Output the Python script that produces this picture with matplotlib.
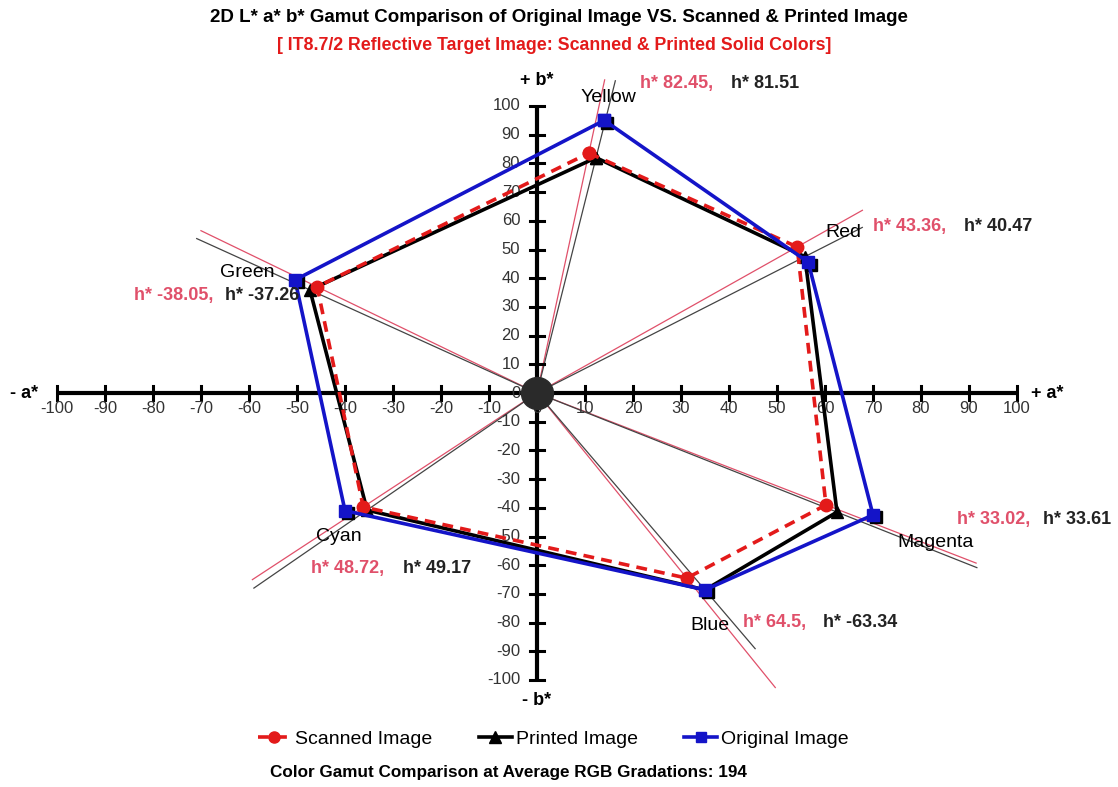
import numpy as np
import matplotlib
matplotlib.use("Agg")
import matplotlib.pyplot as plt
import matplotlib.transforms as mtransforms
from matplotlib.lines import Line2D

plt.rcParams['font.family'] = ['Liberation Sans Narrow', 'Liberation Sans', 'DejaVu Sans']

# ===============================
# Data (a*, b*)
# ===============================
colors = ["Yellow", "Red", "Magenta", "Blue", "Cyan", "Green"]

scanned_a = [10.8, 54.2, 60.2, 31.2, -36.2, -45.8]
scanned_b = [83.6, 50.9, -39.0, -64.5, -39.7, 37.0]

printed_a = [12.3, 55.8, 62.5, 35.0, -35.4, -47.3]
printed_b = [82.0, 47.5, -41.5, -68.6, -40.8, 35.9]

original_a = [14.0, 56.5, 70.0, 35.0, -40.0, -50.4]
original_b = [95.0, 45.6, -42.5, -68.6, -41.0, 39.4]

# hue labels as printed on the chart
hue_scanned = ["82.45", "43.36", "33.02", "64.5", "48.72", "-38.05"]
hue_printed = ["81.51", "40.47", "33.61", "-63.34", "49.17", "-37.26"]

# length of the hue rays (chroma units)
ray_len_scanned = [110, 93, 109, 114, 88, 90]
ray_len_printed = [110, 89, 110, 100, 90, 89]

ticks = np.arange(-100, 101, 10)

# label anchors (a*, b*)
name_pos = {"Yellow": (9, 103), "Red": (60, 56), "Magenta": (75, -52),
            "Blue": (32, -81), "Cyan": (-46, -50), "Green": (-66, 42)}
hue_pos = {"Yellow": (21.5, 108), "Red": (70, 58), "Magenta": (87.5, -44),
           "Blue": (43, -80), "Cyan": (-47, -61), "Green": (-84, 34)}
hue_gap = {"Yellow": 19, "Red": 19, "Magenta": 18, "Blue": 16.5, "Cyan": 19, "Green": 19}

PINK = "#e0506a"
RED = "#e31a1a"
BLUE = "#1414c8"

# ===============================
# Figure: axes span the whole canvas
# ===============================
fig = plt.figure(figsize=(11.18, 7.87), dpi=100)
fig.patch.set_facecolor("white")
ax = fig.add_axes([0, 0, 1, 1])
ax.set_xlim(-537 / 4.8, (1118 - 537) / 4.8)
ax.set_ylim((393 - 787) / 2.87, 393 / 2.87)
ax.axis("off")

# axes through the origin
ax.plot([-100, 100], [0, 0], color="black", lw=3, zorder=2, solid_capstyle="butt")
ax.plot([0, 0], [-100, 100], color="black", lw=3, zorder=2, solid_capstyle="butt")
for t in ticks:
    ax.plot([t, t], [-2.4, 2.4], color="black", lw=2.2, zorder=2)
    ax.plot([-1.4, 1.4], [t, t], color="black", lw=2.2, zorder=2)
    ax.text(t, -5.5, f"{t}", ha="center", va="center", fontsize=12, color="#333333", zorder=3)
    ax.text(-3.5, t, f"{t}", ha="right", va="center", fontsize=12, color="#333333", zorder=3)

ax.text(-104, 0, "- a*", ha="right", va="center", fontsize=13, fontweight="bold")
ax.text(103, 0, "+ a*", ha="left", va="center", fontsize=13, fontweight="bold")
ax.text(0, 109, "+ b*", ha="center", va="center", fontsize=13, fontweight="bold")
ax.text(0, -107, "- b*", ha="center", va="center", fontsize=13, fontweight="bold")

# hue rays from the origin
for xs, ys, lens, col in [(scanned_a, scanned_b, ray_len_scanned, PINK),
                          (printed_a, printed_b, ray_len_printed, "#444444")]:
    for a, b, L in zip(xs, ys, lens):
        ang = np.arctan2(b, a)
        ax.plot([0, L * np.cos(ang)], [0, L * np.sin(ang)], color=col, lw=0.9, zorder=1)

# gamut polygons
def closed(v):
    return list(v) + [v[0]]

ax.plot(closed(printed_a), closed(printed_b), color="black", lw=2.6,
        marker="^", ms=9, zorder=4)
ax.plot(closed(scanned_a), closed(scanned_b), color=RED, lw=2.6, ls=(0, (3, 2)),
        marker="o", ms=9, zorder=5)
# dark shadow under the original markers
shadow = mtransforms.offset_copy(ax.transData, fig=fig, x=2.5, y=-2.5, units="dots")
ax.plot(original_a, original_b, ls="none", marker="s", ms=8, color="black",
        transform=shadow, zorder=5.5)
ax.plot(closed(original_a), closed(original_b), color=BLUE, lw=2.6,
        marker="s", ms=8, zorder=6)

# origin dot
ax.plot([0], [0], marker="o", ms=23, color="#2a2a2a", zorder=7)

# colour names and hue labels
for i, name in enumerate(colors):
    nx, ny = name_pos[name]
    ax.text(nx, ny, name, ha="left", va="center", fontsize=14, color="black", zorder=8)
    hx, hy = hue_pos[name]
    ax.text(hx, hy, f"h* {hue_scanned[i]},", ha="left", va="center", fontsize=13,
            fontweight="bold", color=PINK, zorder=8)
    ax.text(hx + hue_gap[name], hy, f"h* {hue_printed[i]}", ha="left", va="center",
            fontsize=13, fontweight="bold", color="#222222", zorder=8)

# titles
fig.text(0.5, 1 - 18 / 787, "2D L* a* b* Gamut Comparison of Original Image VS. Scanned & Printed Image",
         ha="center", va="center", fontsize=13.5, fontweight="bold")
fig.text(0.496, 1 - 45 / 787, "[ IT8.7/2 Reflective Target Image: Scanned & Printed Solid Colors]",
         ha="center", va="center", fontsize=12.8, fontweight="bold", color=RED)

# legend
handles = [
    Line2D([], [], color=RED, lw=2.6, ls=(0, (3, 2)), marker="o", ms=8),
    Line2D([], [], color="black", lw=2.6, marker="^", ms=8),
    Line2D([], [], color=BLUE, lw=2.6, marker="s", ms=7),
]
fig.legend(handles, ["Scanned Image", "Printed Image", "Original Image"],
           loc="center", bbox_to_anchor=(0.495, 1 - 739 / 787), ncol=3, frameon=False,
           fontsize=14, handlelength=1.7, handletextpad=0.2, columnspacing=2.4)

fig.text(0.455, 1 - 773 / 787, "Color Gamut Comparison at Average RGB Gradations: 194",
         ha="center", va="center", fontsize=12.3, fontweight="bold")

fig.savefig("out.png", dpi=100, facecolor="white")
